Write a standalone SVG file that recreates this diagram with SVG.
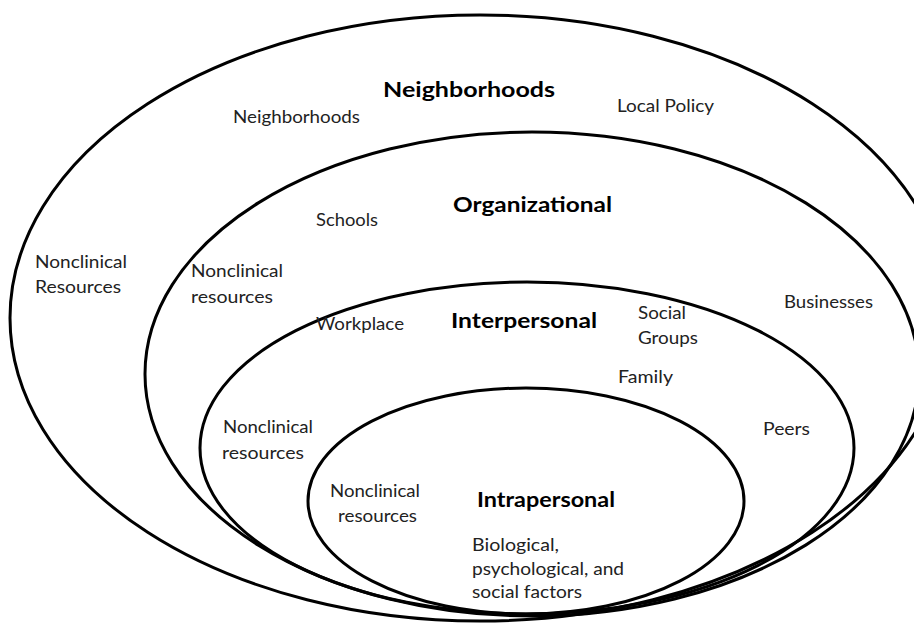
<svg xmlns="http://www.w3.org/2000/svg" width="914" height="623" viewBox="0 0 914 623">
  <style>
    .ring { fill: none; stroke: #000; stroke-width: 3; }
    .title { font-family: Lato, "Open Sans", sans-serif; font-weight: bold; font-size: 21px; fill: #000; }
    .item { font-family: Lato, "Open Sans", sans-serif; font-size: 18px; fill: #222; }
  </style>
  <rect width="914" height="623" fill="#fff"/>

  <!-- nested levels, outermost first -->
  <g id="neighborhoods">
    <ellipse class="ring" cx="480" cy="318" rx="470" ry="303"/>
    <text class="title" x="383" y="97" textLength="172" lengthAdjust="spacingAndGlyphs">Neighborhoods</text>
    <text class="item" x="233" y="123" textLength="127" lengthAdjust="spacingAndGlyphs">Neighborhoods</text>
    <text class="item" x="617" y="112" textLength="97" lengthAdjust="spacingAndGlyphs">Local Policy</text>
    <text class="item" x="35" y="268" textLength="92" lengthAdjust="spacingAndGlyphs">Nonclinical</text>
    <text class="item" x="35" y="293" textLength="86" lengthAdjust="spacingAndGlyphs">Resources</text>
  </g>

  <g id="organizational">
    <ellipse class="ring" cx="532" cy="374" rx="387" ry="242"/>
    <text class="title" x="453" y="212" textLength="159" lengthAdjust="spacingAndGlyphs">Organizational</text>
    <text class="item" x="316" y="226" textLength="62" lengthAdjust="spacingAndGlyphs">Schools</text>
    <text class="item" x="191" y="277" textLength="92" lengthAdjust="spacingAndGlyphs">Nonclinical</text>
    <text class="item" x="191" y="303" textLength="82" lengthAdjust="spacingAndGlyphs">resources</text>
    <text class="item" x="784" y="308" textLength="89" lengthAdjust="spacingAndGlyphs">Businesses</text>
  </g>

  <g id="interpersonal">
    <ellipse class="ring" cx="527" cy="448" rx="327" ry="166"/>
    <text class="title" x="451" y="328" textLength="146" lengthAdjust="spacingAndGlyphs">Interpersonal</text>
    <text class="item" x="316" y="330" textLength="88" lengthAdjust="spacingAndGlyphs">Workplace</text>
    <text class="item" x="638" y="319" textLength="48" lengthAdjust="spacingAndGlyphs">Social</text>
    <text class="item" x="638" y="344" textLength="60" lengthAdjust="spacingAndGlyphs">Groups</text>
    <text class="item" x="618" y="383" textLength="55" lengthAdjust="spacingAndGlyphs">Family</text>
    <text class="item" x="223" y="433" textLength="90" lengthAdjust="spacingAndGlyphs">Nonclinical</text>
    <text class="item" x="222" y="459" textLength="82" lengthAdjust="spacingAndGlyphs">resources</text>
    <text class="item" x="763" y="435" textLength="47" lengthAdjust="spacingAndGlyphs">Peers</text>
  </g>

  <g id="intrapersonal">
    <ellipse class="ring" cx="526" cy="501" rx="218" ry="113"/>
    <text class="title" x="477" y="507" textLength="138" lengthAdjust="spacingAndGlyphs">Intrapersonal</text>
    <text class="item" x="330" y="497" textLength="90" lengthAdjust="spacingAndGlyphs">Nonclinical</text>
    <text class="item" x="338" y="522" textLength="79" lengthAdjust="spacingAndGlyphs">resources</text>
    <text class="item" x="472" y="551" textLength="87" lengthAdjust="spacingAndGlyphs">Biological,</text>
    <text class="item" x="472" y="575" textLength="152" lengthAdjust="spacingAndGlyphs">psychological, and</text>
    <text class="item" x="472" y="598" textLength="110" lengthAdjust="spacingAndGlyphs">social factors</text>
  </g>

  <!-- no connectors: the levels are nested rings -->
  <g id="connectors"/>
</svg>
